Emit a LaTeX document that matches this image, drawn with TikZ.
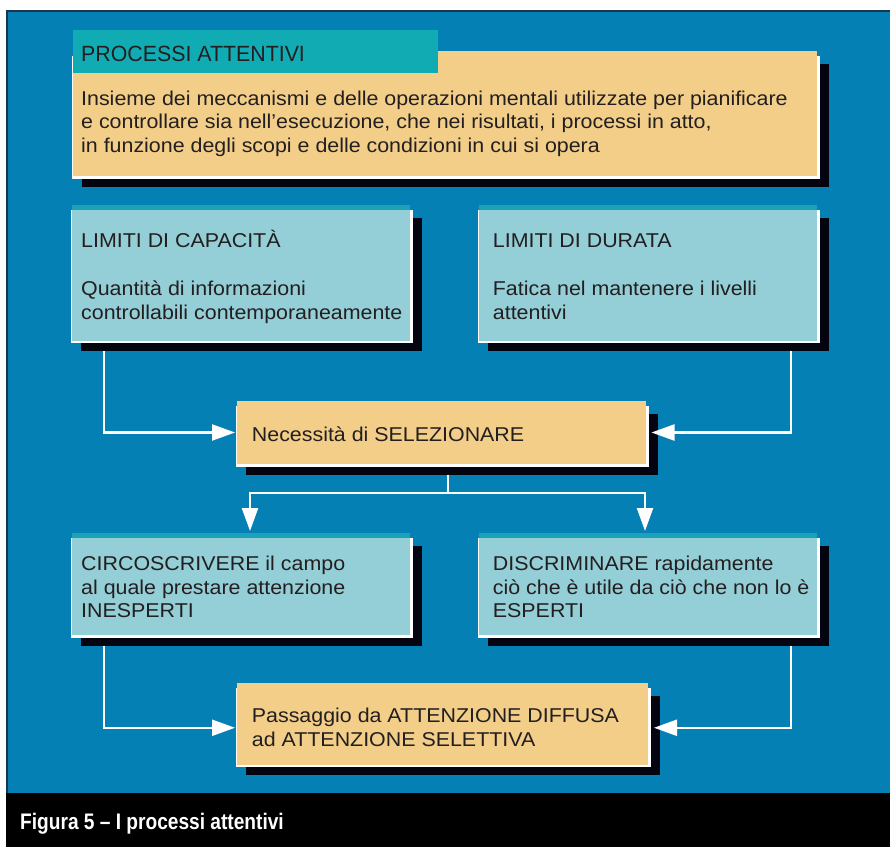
\documentclass[tikz,border=0pt]{standalone}
\usepackage{fontspec}
\setmainfont[FakeStretch=1.07]{Liberation Sans}
\newfontfamily\headfont[FakeStretch=0.97]{Liberation Sans}
\newfontfamily\capfont[FakeStretch=0.85]{Liberation Sans}
\usetikzlibrary{arrows.meta}

\definecolor{bgblue}{HTML}{0480B4}
\definecolor{framedark}{HTML}{16384A}
\definecolor{headteal}{HTML}{10ABB3}
\definecolor{tanc}{HTML}{F2CE88}
\definecolor{lightc}{HTML}{94CED6}
\definecolor{stripc}{HTML}{1AA2B8}
\definecolor{shadowc}{HTML}{03040F}
\definecolor{textc}{HTML}{231F20}

% panel: shadow node, white edge, coloured box node
% #1 name, #2 style, #3,#4 top-left, #5,#6 bottom-right
\newcommand\drawpanel[6]{%
  \node[shadowbox, minimum width={#5-#3+3}, minimum height={#6-#4-2.5}]
    (#1s) at (#3+9,#4+13) {};
  \fill[white] (#3-0.7,#4+5) rectangle (#5+3,#6+2.5);
  \node[#2, minimum width={#5-#3}, minimum height={#6-#4}] (#1) at (#3,#4) {};
}

\begin{document}
\begin{tikzpicture}[x=1pt,y=-1pt,
  boxbase/.style={draw=none, inner sep=0, outer sep=0, anchor=north west},
  shadowbox/.style={boxbase, fill=shadowc},
  tanbox/.style={boxbase, fill=tanc},
  lightbox/.style={boxbase, fill=lightc,
    path picture={\fill[stripc] (path picture bounding box.north west)
      rectangle ([yshift=-4.5pt]path picture bounding box.north east);}},
  headbox/.style={boxbase, fill=headteal},
  txt/.style={anchor=base west, inner sep=0, text=textc,
    font=\fontsize{20}{24}\selectfont},
  headtxt/.style={txt, font=\headfont\fontsize{22}{26}\selectfont},
  captxt/.style={anchor=base west, inner sep=0, text=white,
    font=\capfont\bfseries\fontsize{22.5}{26}\selectfont},
  link/.style={draw=white, line width=2.3pt},
  conn/.style={link, -{Triangle[length=23pt,width=16pt]}, shorten >=2pt},
]
\useasboundingbox (0,0) rectangle (890,847);
\fill[white] (0,0) rectangle (890,847);
\fill[bgblue] (6,10) rectangle (890,793);
\draw[framedark, line width=1.5pt] (6.75,793) -- (6.75,10.75) -- (890,10.75);
\fill[black] (6,793) rectangle (890,847);

% definition panel with its heading tab
\drawpanel{def}{tanbox}{73}{51}{817}{176}
\node[headbox, minimum width=365, minimum height=43] (head) at (73,30) {};
\node[headtxt] (headt) at (81,61) {PROCESSI ATTENTIVI};
\node[txt] (def1) at (81,105) {Insieme dei meccanismi e delle operazioni mentali utilizzate per pianificare};
\node[txt] (def2) at (81,128.5) {e controllare sia nell’esecuzione, che nei risultati, i processi in atto,};
\node[txt] (def3) at (81,152.5) {in funzione degli scopi e delle condizioni in cui si opera};

% the two limits
\drawpanel{lima}{lightbox}{72}{205}{410}{340.5}
\node[txt] (lima1) at (81,247.7) {LIMITI DI CAPACITÀ};
\node[txt] (lima2) at (81,295) {Quantità di informazioni};
\node[txt] (lima3) at (81,319) {controllabili contemporaneamente};

\drawpanel{limb}{lightbox}{479}{205}{817}{340.5}
\node[txt] (limb1) at (492.7,247.7) {LIMITI DI DURATA};
\node[txt] (limb2) at (492.7,295.5) {Fatica nel mantenere i livelli};
\node[txt] (limb3) at (492.7,319.3) {attentivi};

% selection
\drawpanel{nec}{tanbox}{237}{401}{646}{464}
\node[txt] (nec1) at (251.7,441) {Necessità di SELEZIONARE};

% the two strategies
\drawpanel{circ}{lightbox}{72}{533}{410}{635}
\node[txt] (circ1) at (81,570.7) {CIRCOSCRIVERE il campo};
\node[txt] (circ2) at (81,594.3) {al quale prestare attenzione};
\node[txt] (circ3) at (81,617.7) {INESPERTI};

\drawpanel{disc}{lightbox}{479}{533}{817}{635}
\node[txt] (disc1) at (492.7,570.7) {DISCRIMINARE rapidamente};
\node[txt] (disc2) at (492.7,594.3) {ciò che è utile da ciò che non lo è};
\node[txt] (disc3) at (492.7,617.7) {ESPERTI};

% outcome
\drawpanel{pass}{tanbox}{237}{683}{648}{764.5}
\node[txt] (pass1) at (251.7,722.7) {Passaggio da ATTENZIONE DIFFUSA};
\node[txt] (pass2) at (251.7,746.7) {ad ATTENZIONE SELETTIVA};

% connectors
\draw[conn] ([xshift=23]limas.south west) |- (nec.west);
\draw[conn] ([xshift=-38]limbs.south east) |- ([xshift=3.5]nec.east);
\coordinate (fork) at (447.7,492.7);
\draw[link] (necs.south -| fork) -- (fork);
\draw[conn] (fork) -| ([xshift=9]circ.north);
\draw[conn] (fork) -| ([xshift=-3]disc.north);
\draw[conn] ([xshift=23]circs.south west) |- ([yshift=-4]pass.west);
\draw[conn] ([xshift=-38]discs.south east) |- ([xshift=4,yshift=-4]pass.east);

% caption bar
\node[captxt] (caption) at (20,829) {Figura 5 – I processi attentivi};
\end{tikzpicture}
\end{document}
